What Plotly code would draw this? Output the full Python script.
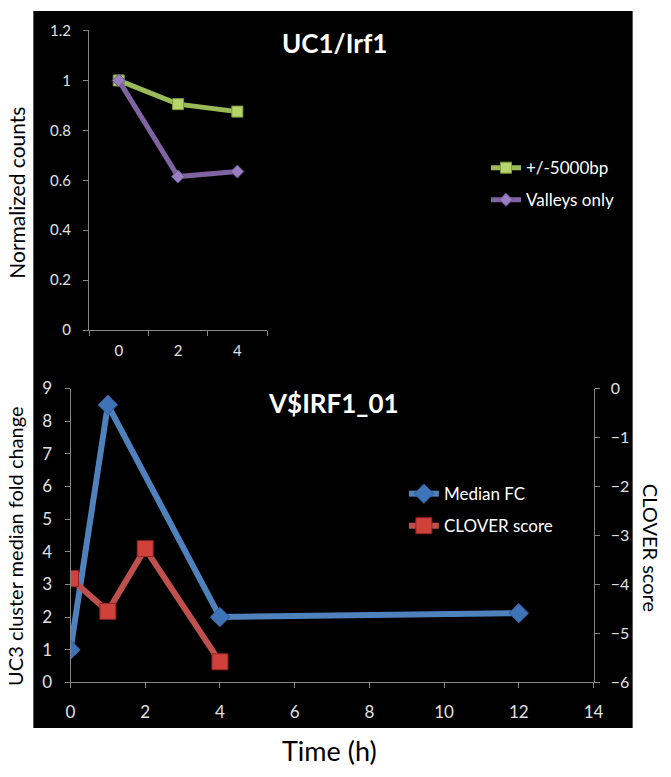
import plotly.graph_objects as go

# ── Data ─────────────────────────────────────────────────────────────────────
top_times = ["0", "2", "4"]
top_window = [1.0, 0.905, 0.875]       # +/-5000bp
top_valleys = [1.0, 0.615, 0.635]      # Valleys only

fc_times = [0, 1, 4, 12]
median_fc = [1.0, 8.5, 2.0, 2.12]

clover_times = [0, 1, 2, 4]
clover_score = [-3.88, -4.55, -3.27, -5.58]

# ── Style ────────────────────────────────────────────────────────────────────
W, H = 671, 777
FONT = "Lato, 'Open Sans', sans-serif"
PLOT_BG = "#404040"
AXIS = "#868686"
TICK_TXT = "#E0E0E0"
BLUE, RED, GREEN, PURPLE = "#4F81BD", "#C0504D", "#9BBB59", "#8064A2"


def px_x(p):
    return p / W


def px_y(p):
    return 1 - p / H


fig = go.Figure()

# top panel
fig.add_trace(go.Scatter(
    x=top_times, y=top_window, name="+/-5000bp", mode="lines+markers",
    line=dict(color=GREEN, width=5),
    marker=dict(symbol="square", size=11, color="#B5D56A",
                line=dict(color="#7E9A3F", width=1)),
    xaxis="x", yaxis="y", legend="legend", legendgroup="a",
))
fig.add_trace(go.Scatter(
    x=top_times, y=top_valleys, name="Valleys only", mode="lines+markers",
    line=dict(color=PURPLE, width=5),
    marker=dict(symbol="diamond", size=10, color="#9A7FC0",
                line=dict(color="#6A5090", width=1)),
    xaxis="x", yaxis="y", legend="legend", legendgroup="b",
))

# bottom panel
fig.add_trace(go.Scatter(
    x=fc_times, y=median_fc, name="Median FC", mode="lines+markers",
    line=dict(color=BLUE, width=6),
    marker=dict(symbol="diamond", size=15, color="#3F73B8",
                line=dict(color="#2E5A94", width=1)),
    xaxis="x2", yaxis="y2", legend="legend2", legendgroup="c",
))
fig.add_trace(go.Scatter(
    x=clover_times, y=clover_score, name="CLOVER score", mode="lines+markers",
    line=dict(color=RED, width=6),
    marker=dict(symbol="square", size=16, color="#D0413C",
                line=dict(color="#8E2522", width=1)),
    xaxis="x2", yaxis="y3", legend="legend2", legendgroup="d",
))


def axis_style(size, standoff):
    return dict(
        showgrid=False, zeroline=False, showline=True, linecolor=AXIS,
        linewidth=1, ticks="outside", ticklen=5, tickcolor=AXIS,
        ticklabelstandoff=standoff,
        tickfont=dict(family=FONT, size=size, color=TICK_TXT),
    )


fig.update_layout(
    width=W, height=H,
    margin=dict(l=0, r=0, t=0, b=0),
    paper_bgcolor="white",
    plot_bgcolor=PLOT_BG,
    font=dict(family=FONT, color="white"),
    xaxis=dict(
        **axis_style(15, 7), type="category", tickson="boundaries",
        range=[-0.5, 2.5], domain=[px_x(86), px_x(268)], anchor="y",
    ),
    yaxis=dict(
        **axis_style(15, 9), range=[0, 1.2], dtick=0.2,
        domain=[px_y(328), px_y(20)], anchor="x",
    ),
    xaxis2=dict(
        **axis_style(17, 9), range=[0, 14], dtick=2,
        domain=[px_x(67), px_x(602)], anchor="y2",
    ),
    yaxis2=dict(
        **axis_style(17, 9), range=[0, 9], dtick=1,
        domain=[px_y(690), px_y(388)], anchor="x2",
    ),
    yaxis3=dict(
        **axis_style(16, 8), range=[-6, 0], dtick=1, side="right",
        overlaying="y2", anchor="x2",
    ),
    legend=dict(
        x=px_x(492), y=px_y(143), xanchor="left", yanchor="top",
        bgcolor="rgba(0,0,0,0)", tracegroupgap=7,
        font=dict(family=FONT, size=17, color="white"),
    ),
    legend2=dict(
        x=px_x(408), y=px_y(478), xanchor="left", yanchor="top",
        bgcolor="rgba(0,0,0,0)", tracegroupgap=7,
        font=dict(family=FONT, size=17, color="white"),
    ),
    shapes=[dict(
        type="rect", xref="paper", yref="paper", layer="below",
        x0=px_x(29), x1=px_x(642), y0=px_y(737), y1=1,
        fillcolor="black", line=dict(width=0),
    )],
)

annotations = [
    dict(text="<b>UC1/Irf1</b>", x=px_x(281), y=px_y(33), xanchor="left",
         font=dict(size=26, color="white")),
    dict(text="<b>V$IRF1_01</b>", x=px_x(267), y=px_y(403), xanchor="left",
         font=dict(size=26, color="white")),
    dict(text="Normalized counts", x=px_x(12), y=px_y(187), textangle=-90,
         font=dict(size=21, color="black")),
    dict(text="UC3 cluster median fold change", x=px_x(10), y=px_y(550),
         textangle=-90, font=dict(size=20, color="black")),
    dict(text="CLOVER score", x=px_x(661), y=px_y(552), textangle=90,
         font=dict(size=20, color="black")),
    dict(text="Time (h)", x=px_x(332), y=px_y(760),
         font=dict(size=27, color="black")),
]
for a in annotations:
    a.setdefault("xanchor", "center")
    a.update(xref="paper", yref="paper", showarrow=False, yanchor="middle")
    a["font"]["family"] = FONT
    fig.add_annotation(**a)

fig.write_html("out.html", config={"displayModeBar": False})

# no default body margin, so the figure sits at the top-left of the page
with open("out.html", encoding="utf-8") as f:
    page = f.read()
page = page.replace("<body>", '<body style="margin:0;overflow:hidden">', 1)
with open("out.html", "w", encoding="utf-8") as f:
    f.write(page)
